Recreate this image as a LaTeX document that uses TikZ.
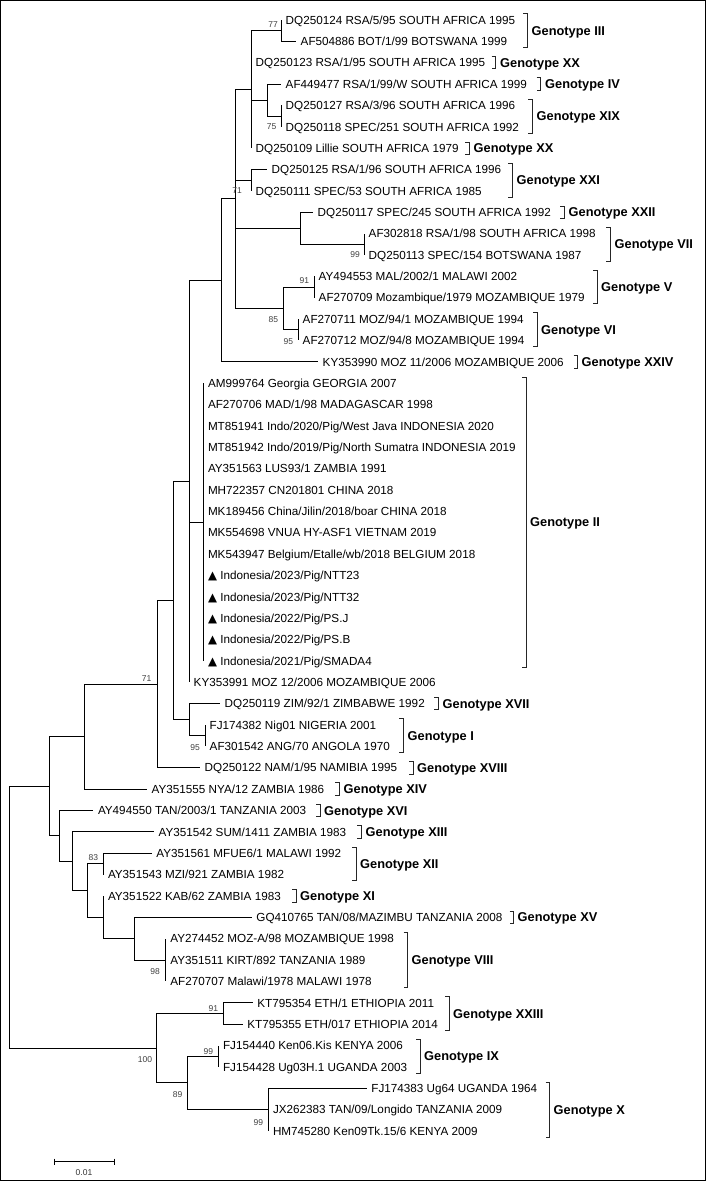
\documentclass[tikz,border=0pt]{standalone}
\usepackage{fontspec}
\setmainfont{Liberation Sans}
\newfontfamily\symfont{DejaVu Sans}
\begin{document}
\begin{tikzpicture}[
  br/.style={line width=0.95pt, black},
  lf/.style={anchor=base west, font=\fontsize{11.7}{13}\selectfont, inner sep=0pt, xshift=4.5pt, yshift=-4.2pt},
  gt/.style={anchor=base west, font=\fontsize{12.8}{14}\selectfont\bfseries, inner sep=0pt, yshift=-4.6pt},
  bs/.style={font=\fontsize{8.5}{9}\selectfont, text=black!75, inner sep=0pt},
  brk/.style={line width=0.95pt, black!85}
]
\useasboundingbox (0,0) rectangle (706pt,-1181pt);
\draw[line width=1pt] (0.5pt,-0.5pt) rectangle (705.5pt,-1180.5pt);
\begin{scope}[x=1pt, y=-21.365pt, yshift=1.365pt]
% internal nodes
\coordinate (n77) at (281,1.5);
\coordinate (nXIX) at (281,5.5);
\coordinate (nB) at (267,4.75);
\coordinate (nC) at (251,4.25);
\coordinate (nXXI) at (251,8.5);
\coordinate (nVII) at (364,11.5);
\coordinate (nD) at (300.7,10.75);
\coordinate (nV) at (314,13.5);
\coordinate (nVI) at (298,15.5);
\coordinate (nE) at (283,14.5);
\coordinate (nF) at (235.7,9.375);
\coordinate (nG) at (221,13.1875);
\coordinate (nII) at (203.3,24.5);
\coordinate (nH) at (189,22.59375);
\coordinate (nI) at (205,34.5);
\coordinate (nJ) at (189,33.75);
\coordinate (nK) at (173,28.171875);
\coordinate (nL) at (157,32.0859);
\coordinate (nM) at (84.3,34.543);
\coordinate (nXII) at (103.3,40.5);
\coordinate (nVIII) at (165.7,45);
\coordinate (nN) at (134.3,44);
\coordinate (nO) at (103.3,43);
\coordinate (nP) at (87.7,41.75);
\coordinate (nQ) at (72.7,40.375);
\coordinate (nR) at (59.3,39.1875);
\coordinate (nS) at (49.3,36.865);
\coordinate (nXXIII) at (223.3,47.5);
\coordinate (nIX) at (218.3,49.5);
\coordinate (nX) at (268.3,52);
\coordinate (nT) at (187.3,50.75);
\coordinate (nU) at (156,49.125);
\coordinate (root) at (9.3,42.995);
% leaf tips
\foreach \i/\x in {1/281,2/296,3/251,4/281,5/281,6/281,7/251,8/267,9/251,10/313,
  11/364,12/364,13/314,14/314,15/298,16/298,17/318,
  18/203.3,19/203.3,20/203.3,21/203.3,22/203.3,23/203.3,24/203.3,25/203.3,26/203.3,
  27/203.3,28/203.3,29/203.3,30/203.3,31/203.3,
  32/189,33/220,34/205,35/205,36/200,37/147,38/93.3,39/154,40/151.7,41/103.3,42/103.3,
  43/251.7,44/165.7,45/165.7,46/165.7,47/252.7,48/242.7,49/218.3,50/218.3,
  51/366.7,52/268.3,53/268.3}
  \coordinate (l\i) at (\x,\i);
% branches
\foreach \p/\c in {n77/l1,n77/l2,nXIX/l5,nXIX/l6,nB/l4,nB/nXIX,
  nC/n77,nC/l3,nC/nB,nC/l7,nXXI/l8,nXXI/l9,nVII/l11,nVII/l12,nD/l10,nD/nVII,
  nV/l13,nV/l14,nVI/l15,nVI/l16,nE/nV,nE/nVI,
  nF/nC,nF/nXXI,nF/nD,nF/nE,nG/nF,nG/l17,
  nII/l18,nII/l19,nII/l20,nII/l21,nII/l22,nII/l23,nII/l24,nII/l25,nII/l26,
  nII/l27,nII/l28,nII/l29,nII/l30,nII/l31,
  nH/nG,nH/nII,nH/l32,nI/l34,nI/l35,nJ/l33,nJ/nI,nK/nH,nK/nJ,nL/nK,nL/l36,
  nM/nL,nM/l37,nXII/l40,nXII/l41,nVIII/l44,nVIII/l45,nVIII/l46,
  nN/l43,nN/nVIII,nO/l42,nO/nN,nP/nXII,nP/nO,nQ/l39,nQ/nP,nR/l38,nR/nQ,
  nS/nM,nS/nR,nXXIII/l47,nXXIII/l48,nIX/l49,nIX/l50,nX/l51,nX/l52,nX/l53,
  nT/nIX,nT/nX,nU/nXXIII,nU/nT,root/nS,root/nU}
  \draw[br] (\p) |- (\c);
% leaf labels
\node[lf] (t1) at (l1) {DQ250124 RSA/5/95 SOUTH AFRICA 1995};
\node[lf] (t2) at (l2) {AF504886 BOT/1/99 BOTSWANA 1999};
\node[lf] (t3) at (l3) {DQ250123 RSA/1/95 SOUTH AFRICA 1995};
\node[lf] (t4) at (l4) {AF449477 RSA/1/99/W SOUTH AFRICA 1999};
\node[lf] (t5) at (l5) {DQ250127 RSA/3/96 SOUTH AFRICA 1996};
\node[lf] (t6) at (l6) {DQ250118 SPEC/251 SOUTH AFRICA 1992};
\node[lf] (t7) at (l7) {DQ250109 Lillie SOUTH AFRICA 1979};
\node[lf] (t8) at (l8) {DQ250125 RSA/1/96 SOUTH AFRICA 1996};
\node[lf] (t9) at (l9) {DQ250111 SPEC/53 SOUTH AFRICA 1985};
\node[lf] (t10) at (l10) {DQ250117 SPEC/245 SOUTH AFRICA 1992};
\node[lf] (t11) at (l11) {AF302818 RSA/1/98 SOUTH AFRICA 1998};
\node[lf] (t12) at (l12) {DQ250113 SPEC/154 BOTSWANA 1987};
\node[lf] (t13) at (l13) {AY494553 MAL/2002/1 MALAWI 2002};
\node[lf] (t14) at (l14) {AF270709 Mozambique/1979 MOZAMBIQUE 1979};
\node[lf] (t15) at (l15) {AF270711 MOZ/94/1 MOZAMBIQUE 1994};
\node[lf] (t16) at (l16) {AF270712 MOZ/94/8 MOZAMBIQUE 1994};
\node[lf] (t17) at (l17) {KY353990 MOZ 11/2006 MOZAMBIQUE 2006};
\node[lf] (t18) at (l18) {AM999764 Georgia GEORGIA 2007};
\node[lf] (t19) at (l19) {AF270706 MAD/1/98 MADAGASCAR 1998};
\node[lf] (t20) at (l20) {MT851941 Indo/2020/Pig/West Java INDONESIA 2020};
\node[lf] (t21) at (l21) {MT851942 Indo/2019/Pig/North Sumatra INDONESIA 2019};
\node[lf] (t22) at (l22) {AY351563 LUS93/1 ZAMBIA 1991};
\node[lf] (t23) at (l23) {MH722357 CN201801 CHINA 2018};
\node[lf] (t24) at (l24) {MK189456 China/Jilin/2018/boar CHINA 2018};
\node[lf] (t25) at (l25) {MK554698 VNUA HY-ASF1 VIETNAM 2019};
\node[lf] (t26) at (l26) {MK543947 Belgium/Etalle/wb/2018 BELGIUM 2018};
\node[lf] (t27) at (l27) {{\symfont ▲} Indonesia/2023/Pig/NTT23};
\node[lf] (t28) at (l28) {{\symfont ▲} Indonesia/2023/Pig/NTT32};
\node[lf] (t29) at (l29) {{\symfont ▲} Indonesia/2022/Pig/PS.J};
\node[lf] (t30) at (l30) {{\symfont ▲} Indonesia/2022/Pig/PS.B};
\node[lf] (t31) at (l31) {{\symfont ▲} Indonesia/2021/Pig/SMADA4};
\node[lf] (t32) at (l32) {KY353991 MOZ 12/2006 MOZAMBIQUE 2006};
\node[lf] (t33) at (l33) {DQ250119 ZIM/92/1 ZIMBABWE 1992};
\node[lf] (t34) at (l34) {FJ174382 Nig01 NIGERIA 2001};
\node[lf] (t35) at (l35) {AF301542 ANG/70 ANGOLA 1970};
\node[lf] (t36) at (l36) {DQ250122 NAM/1/95 NAMIBIA 1995};
\node[lf] (t37) at (l37) {AY351555 NYA/12 ZAMBIA 1986};
\node[lf] (t38) at (l38) {AY494550 TAN/2003/1 TANZANIA 2003};
\node[lf] (t39) at (l39) {AY351542 SUM/1411 ZAMBIA 1983};
\node[lf] (t40) at (l40) {AY351561 MFUE6/1 MALAWI 1992};
\node[lf] (t41) at (l41) {AY351543 MZI/921 ZAMBIA 1982};
\node[lf] (t42) at (l42) {AY351522 KAB/62 ZAMBIA 1983};
\node[lf] (t43) at (l43) {GQ410765 TAN/08/MAZIMBU TANZANIA 2008};
\node[lf] (t44) at (l44) {AY274452 MOZ-A/98 MOZAMBIQUE 1998};
\node[lf] (t45) at (l45) {AY351511 KIRT/892 TANZANIA 1989};
\node[lf] (t46) at (l46) {AF270707 Malawi/1978 MALAWI 1978};
\node[lf] (t47) at (l47) {KT795354 ETH/1 ETHIOPIA 2011};
\node[lf] (t48) at (l48) {KT795355 ETH/017 ETHIOPIA 2014};
\node[lf] (t49) at (l49) {FJ154440 Ken06.Kis KENYA 2006};
\node[lf] (t50) at (l50) {FJ154428 Ug03H.1 UGANDA 2003};
\node[lf] (t51) at (l51) {FJ174383 Ug64 UGANDA 1964};
\node[lf] (t52) at (l52) {JX262383 TAN/09/Longido TANZANIA 2009};
\node[lf] (t53) at (l53) {HM745280 Ken09Tk.15/6 KENYA 2009};
% bootstrap values
\node[bs] (b1) at ([xshift=-8pt,yshift=6.2pt]n77) {77};
\node[bs] (b2) at ([xshift=-9.3pt,yshift=-10.6pt]nXIX) {75};
\node[bs] (b3) at ([xshift=-14pt,yshift=-10pt]nXXI) {71};
\node[bs] (b4) at ([xshift=-9pt,yshift=-10.7pt]nVII) {99};
\node[bs] (b5) at ([xshift=-9.7pt,yshift=6.4pt]nV) {91};
\node[bs] (b6) at ([xshift=-9.7pt,yshift=-10.9pt]nE) {85};
\node[bs] (b7) at ([xshift=-9.7pt,yshift=-11.9pt]nVI) {95};
\node[bs] (b8) at ([xshift=-10.3pt,yshift=5.8pt]nL) {71};
\node[bs] (b9) at ([xshift=-10pt,yshift=-11.6pt]nI) {95};
\node[bs] (b10) at ([xshift=-10pt,yshift=6.2pt]nXII) {83};
\node[bs] (b11) at ([xshift=-10.7pt,yshift=-11.6pt]nVIII) {98};
\node[bs] (b12) at ([xshift=-10pt,yshift=5.2pt]nXXIII) {91};
\node[bs] (b13) at ([xshift=-11pt,yshift=-11.8pt]nU) {100};
\node[bs] (b14) at ([xshift=-10pt,yshift=4.5pt]nIX) {99};
\node[bs] (b15) at ([xshift=-9.6pt,yshift=-12.1pt]nT) {89};
\node[bs] (b16) at ([xshift=-10pt,yshift=-13pt]nX) {99};
% genotype brackets
\foreach \x/\a/\b in {527/1/2,495.5/3/3,540.5/4/4,532/5/6,469/7/7,512/8/9,564/10/10,
  610/11/12,597/13/14,537/15/16,577.5/17/17,526/18/31,438/33/33,403/34/35,413/36/36,
  339/37/37,320/38/38,361/39/39,356/40/41,296/42/42,513.5/43/43,407.6/44/46,
  449/47/48,420/49/50,549.5/51/53}
  \draw[brk] (\x-4,\a-0.29) -- (\x,\a-0.29) -- (\x,\b+0.29) -- (\x-4,\b+0.29);
\node[gt] (g1) at (531.5,1.5) {Genotype III};
\node[gt] (g2) at (500,3) {Genotype XX};
\node[gt] (g3) at (545,4) {Genotype IV};
\node[gt] (g4) at (536.5,5.5) {Genotype XIX};
\node[gt] (g5) at (473.5,7) {Genotype XX};
\node[gt] (g6) at (516.5,8.5) {Genotype XXI};
\node[gt] (g7) at (568.5,10) {Genotype XXII};
\node[gt] (g8) at (614.5,11.5) {Genotype VII};
\node[gt] (g9) at (601,13.5) {Genotype V};
\node[gt] (g10) at (541,15.5) {Genotype VI};
\node[gt] (g11) at (581.5,17) {Genotype XXIV};
\node[gt] (g12) at (530,24.5) {Genotype II};
\node[gt] (g13) at (442.5,33) {Genotype XVII};
\node[gt] (g14) at (407.5,34.5) {Genotype I};
\node[gt] (g15) at (417,36) {Genotype XVIII};
\node[gt] (g16) at (343.5,37) {Genotype XIV};
\node[gt] (g17) at (324,38) {Genotype XVI};
\node[gt] (g18) at (365.5,39) {Genotype XIII};
\node[gt] (g19) at (360,40.5) {Genotype XII};
\node[gt] (g20) at (300,42) {Genotype XI};
\node[gt] (g21) at (517.5,43) {Genotype XV};
\node[gt] (g22) at (411.5,45) {Genotype VIII};
\node[gt] (g23) at (453,47.5) {Genotype XXIII};
\node[gt] (g24) at (424,49.5) {Genotype IX};
\node[gt] (g25) at (553.5,52) {Genotype X};
\end{scope}
% scale bar
\coordinate (sb1) at (54pt,-1161.7pt);
\coordinate (sb2) at (114pt,-1161.7pt);
\draw[br] (sb1) -- (sb2);
\draw[br] ([yshift=3pt]sb1) -- ([yshift=-3pt]sb1);
\draw[br] ([yshift=3pt]sb2) -- ([yshift=-3pt]sb2);
\node[bs, text=black!80] (sbl) at (84pt,-1173pt) {0.01};
\end{tikzpicture}
\end{document}
